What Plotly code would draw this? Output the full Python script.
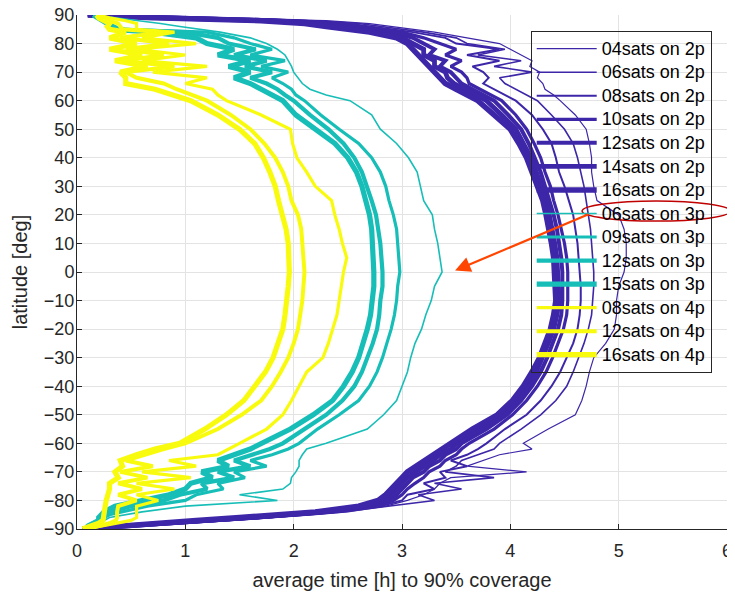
import plotly.graph_objects as go

LAT = [90, 89, 88, 87, 86, 85, 84, 82, 80, 78, 76, 74, 72, 70, 68, 66, 64, 62, 60,
       55, 50, 45, 40, 35, 30, 25, 20, 15, 10, 5, 0, -5, -10, -15, -20, -25, -30, -35, -40, -45, -50, -55,
       -60, -62, -64, -66, -68, -70, -72, -74, -76, -78, -80, -82, -84, -85, -86, -87, -88, -89, -90]

# ---- 2 planes ----
p2_04 = [0.1, 1.3, 2.3, 2.7, 2.9, 3.1, 3.3, 3.6, 3.9, 4.0, 4.1, 4.2, 4.18, 4.27, 4.25, 4.3, 4.32, 4.4, 4.46,
         4.6, 4.7, 4.73, 4.75, 4.75, 4.77, 4.8, 5.0, 5.05, 5.07, 5.07, 5.05, 5.0, 4.98, 4.98, 4.96, 4.88, 4.77, 4.73, 4.7, 4.66, 4.6, 4.35,
         4.12, 4.2, 3.9, 3.75, 3.6, 4.15, 3.45, 3.35, 3.3, 3.2, 3.05, 2.85, 2.5, 2.2, 1.85, 1.45, 1.0, 0.55, 0.05]
p2_06 = [0.1, 1.2, 2.2, 2.6, 2.8, 3.0, 3.2, 3.5, 3.6, 3.95, 3.7, 4.1, 3.85, 4.2, 3.9, 3.95, 4.05, 4.15, 4.25,
         4.38, 4.5, 4.58, 4.62, 4.65, 4.68, 4.7, 4.72, 4.74, 4.75, 4.76, 4.77, 4.77, 4.76, 4.75, 4.72, 4.68, 4.63, 4.58, 4.52, 4.42, 4.28, 4.1,
         3.9, 3.85, 3.7, 3.55, 3.5, 3.4, 3.85, 3.3, 3.55, 3.15, 3.3, 2.85, 2.45, 2.15, 1.8, 1.4, 1.0, 0.55, 0.05]
p2_08 = [0.1, 1.1, 2.1, 2.5, 2.7, 2.9, 3.1, 3.4, 3.5, 3.9, 3.6, 3.9, 3.65, 3.75, 3.8, 3.75, 3.85, 3.95, 4.05,
         4.2, 4.3, 4.38, 4.42, 4.45, 4.5, 4.54, 4.58, 4.6, 4.62, 4.63, 4.64, 4.65, 4.65, 4.64, 4.62, 4.58, 4.52, 4.46, 4.38, 4.28, 4.15, 3.95,
         3.78, 3.7, 3.6, 3.45, 3.6, 3.35, 3.4, 3.2, 3.3, 3.05, 3.0, 2.8, 2.4, 2.1, 1.75, 1.35, 0.95, 0.5, 0.05]
p2_10 = [0.1, 1.0, 2.0, 2.4, 2.6, 2.8, 3.0, 3.2, 3.35, 3.5, 3.4, 3.55, 3.45, 3.55, 3.6, 3.62, 3.72, 3.82, 3.92,
         4.05, 4.15, 4.22, 4.28, 4.32, 4.37, 4.4, 4.44, 4.47, 4.5, 4.52, 4.53, 4.53, 4.53, 4.52, 4.49, 4.44, 4.39, 4.33, 4.25, 4.15, 4.02, 3.85,
         3.62, 3.55, 3.5, 3.4, 3.35, 3.25, 3.2, 3.12, 3.05, 3.0, 2.92, 2.75, 2.35, 2.05, 1.7, 1.3, 0.9, 0.5, 0.05]
p2_12 = [0.1, 0.9, 1.9, 2.3, 2.5, 2.7, 2.9, 3.1, 3.2, 3.3, 3.25, 3.4, 3.35, 3.45, 3.5, 3.55, 3.65, 3.75, 3.85,
         3.98, 4.1, 4.17, 4.23, 4.28, 4.32, 4.36, 4.4, 4.43, 4.45, 4.47, 4.48, 4.48, 4.48, 4.47, 4.44, 4.39, 4.34, 4.28, 4.2, 4.1, 3.97, 3.78,
         3.55, 3.5, 3.4, 3.35, 3.25, 3.2, 3.1, 3.05, 3.0, 2.95, 2.87, 2.7, 2.3, 2.0, 1.65, 1.25, 0.85, 0.45, 0.05]
p2_14 = [0.1, 0.8, 1.8, 2.2, 2.4, 2.6, 2.8, 3.0, 3.1, 3.2, 3.2, 3.3, 3.3, 3.4, 3.42, 3.48, 3.58, 3.68, 3.78,
         3.92, 4.05, 4.12, 4.19, 4.24, 4.29, 4.33, 4.36, 4.39, 4.41, 4.43, 4.44, 4.45, 4.45, 4.43, 4.4, 4.35, 4.3, 4.24, 4.16, 4.07, 3.93, 3.72,
         3.5, 3.45, 3.35, 3.28, 3.2, 3.12, 3.05, 3.0, 2.95, 2.9, 2.82, 2.65, 2.25, 1.95, 1.6, 1.2, 0.8, 0.4, 0.05]
p2_16 = [0.1, 0.7, 1.7, 2.1, 2.3, 2.5, 2.7, 2.95, 3.05, 3.1, 3.15, 3.2, 3.25, 3.3, 3.35, 3.4, 3.5, 3.6, 3.7,
         3.85, 4.0, 4.08, 4.15, 4.2, 4.25, 4.3, 4.33, 4.36, 4.38, 4.4, 4.41, 4.42, 4.42, 4.4, 4.37, 4.32, 4.27, 4.2, 4.12, 4.02, 3.88, 3.65,
         3.45, 3.38, 3.3, 3.2, 3.12, 3.05, 3.0, 2.95, 2.9, 2.85, 2.78, 2.6, 2.2, 1.9, 1.5, 1.1, 0.7, 0.35, 0.05]

# ---- 3 planes ----
p3_06 = [0.15, 0.37, 0.55, 0.77, 0.95, 1.15, 1.32, 1.6, 1.75, 1.85, 1.92, 1.95, 1.98, 2.0, 2.04, 2.08, 2.15, 2.3, 2.52,
         2.72, 2.8, 2.95, 3.06, 3.14, 3.17, 3.2, 3.28, 3.3, 3.33, 3.35, 3.37, 3.3, 3.27, 3.22, 3.18, 3.12, 3.08, 3.05, 3.0, 2.95, 2.83, 2.68,
         2.3, 2.12, 2.08, 2.05, 2.05, 2.02, 1.98, 1.97, 1.9, 1.5, 1.85, 1.0, 0.6, 0.45, 0.3, 0.25, 0.2, 0.15, 0.1]
p3_09 = [0.15, 0.25, 0.3, 0.3, 0.35, 0.4, 1.2, 1.45, 1.6, 1.8, 1.6, 1.92, 1.7, 1.95, 1.8, 1.9, 1.98, 2.02, 2.1,
         2.25, 2.42, 2.6, 2.72, 2.8, 2.85, 2.88, 2.92, 2.95, 2.96, 2.97, 2.98, 2.96, 2.95, 2.93, 2.9, 2.86, 2.82, 2.77, 2.7, 2.6, 2.42, 2.22,
         2.05, 1.95, 1.8, 1.6, 1.75, 1.45, 1.55, 1.3, 1.35, 1.1, 1.0, 0.65, 0.4, 0.3, 0.25, 0.22, 0.18, 0.12, 0.08]
p3_12 = [0.15, 0.22, 0.28, 0.3, 0.3, 0.35, 1.0, 1.3, 1.4, 1.65, 1.45, 1.75, 1.55, 1.8, 1.6, 1.75, 1.85, 1.92, 2.0,
         2.15, 2.32, 2.46, 2.56, 2.63, 2.68, 2.72, 2.76, 2.78, 2.8, 2.81, 2.82, 2.82, 2.8, 2.79, 2.77, 2.73, 2.68, 2.63, 2.56, 2.45, 2.3, 2.1,
         1.9, 1.78, 1.62, 1.45, 1.6, 1.3, 1.45, 1.15, 1.2, 0.95, 0.8, 0.5, 0.3, 0.25, 0.22, 0.2, 0.15, 0.1, 0.08]
p3_15 = [0.15, 0.2, 0.25, 0.28, 0.3, 0.32, 0.7, 1.1, 1.2, 1.45, 1.3, 1.6, 1.4, 1.6, 1.45, 1.6, 1.7, 1.8, 1.9,
         2.02, 2.2, 2.38, 2.5, 2.58, 2.63, 2.67, 2.7, 2.72, 2.73, 2.74, 2.74, 2.74, 2.73, 2.71, 2.68, 2.64, 2.6, 2.54, 2.46, 2.36, 2.18, 1.97,
         1.72, 1.6, 1.45, 1.3, 1.4, 1.15, 1.25, 1.05, 1.0, 0.85, 0.6, 0.35, 0.25, 0.22, 0.2, 0.2, 0.15, 0.1, 0.08]

# ---- 4 planes ----
p4_08 = [0.2, 0.3, 0.45, 0.55, 0.55, 0.55, 0.9, 0.6, 1.1, 0.55, 1.0, 0.6, 1.2, 0.7, 1.2, 1.0, 1.25, 1.3, 1.38,
         1.7, 1.97, 1.99, 2.03, 2.12, 2.2, 2.35, 2.38, 2.42, 2.45, 2.49, 2.46, 2.44, 2.42, 2.4, 2.36, 2.32, 2.27, 2.12, 2.05, 1.98, 1.9, 1.75,
         1.5, 1.4, 1.3, 0.85, 1.1, 0.6, 1.05, 0.55, 0.9, 0.55, 0.75, 0.55, 0.55, 0.55, 0.55, 0.5, 0.35, 0.2, 0.08]
p4_12 = [0.18, 0.22, 0.3, 0.38, 0.4, 0.42, 0.8, 0.4, 0.85, 0.45, 0.8, 0.42, 0.9, 0.45, 0.55, 0.8, 0.92, 1.05, 1.2,
         1.42, 1.6, 1.73, 1.83, 1.9, 1.95, 1.98, 2.04, 2.07, 2.08, 2.09, 2.1, 2.09, 2.08, 2.06, 2.04, 2.0, 1.95, 1.88, 1.8, 1.7, 1.52, 1.3,
         1.0, 0.8, 0.62, 0.45, 0.7, 0.4, 0.65, 0.38, 0.6, 0.38, 0.55, 0.38, 0.37, 0.37, 0.37, 0.36, 0.3, 0.2, 0.08]
p4_16 = [0.18, 0.2, 0.25, 0.3, 0.28, 0.3, 0.45, 0.3, 0.55, 0.3, 0.6, 0.35, 0.65, 0.4, 0.45, 0.45, 0.72, 0.9, 1.05,
         1.3, 1.5, 1.64, 1.72, 1.78, 1.83, 1.86, 1.9, 1.93, 1.95, 1.96, 1.96, 1.95, 1.94, 1.92, 1.9, 1.86, 1.81, 1.74, 1.64, 1.54, 1.38, 1.18,
         0.95, 0.72, 0.55, 0.4, 0.42, 0.35, 0.38, 0.3, 0.3, 0.28, 0.27, 0.26, 0.25, 0.25, 0.25, 0.24, 0.2, 0.12, 0.05]

NAMES = ["04sats on 2p", "06sats on 2p", "08sats on 2p", "10sats on 2p", "12sats on 2p", "14sats on 2p", "16sats on 2p",
         "06sats on 3p", "09sats on 3p", "12sats on 3p", "15sats on 3p",
         "08sats on 4p", "12sats on 4p", "16sats on 4p"]
VALUES = [p2_04, p2_06, p2_08, p2_10, p2_12, p2_14, p2_16, p3_06, p3_09, p3_12, p3_15, p4_08, p4_12, p4_16]

PURPLE, CYAN, YELLOW = "#3E26A8", "#17BEB8", "#F9FB0E"
COLORS = [PURPLE] * 7 + [CYAN] * 4 + [YELLOW] * 3
WIDTHS = [1.2, 1.6, 2.0, 3.2, 4.0, 4.8, 5.5, 1.6, 3.2, 4.2, 5.2, 3.2, 4.0, 5.2]

fig = go.Figure()
for name, vals, col, w in zip(NAMES, VALUES, COLORS, WIDTHS):
    fig.add_trace(go.Scatter(x=vals, y=LAT, mode="lines",
                             name='<span style="font-size:18px">' + name + '</span>',
                             line=dict(color=col, width=w)))

FONT = "Liberation Sans, Arial, Helvetica, sans-serif"
TXT = "#262626"

# the page body adds an 8px offset, so the figure is 8px smaller than the window
fig.update_layout(
    width=727, height=584,
    margin=dict(l=69, r=8, t=7, b=63),
    paper_bgcolor="white", plot_bgcolor="white",
    font=dict(family=FONT, color=TXT, size=18),
    legend=dict(x=0.698, y=0.969, xanchor="left", yanchor="top",
                bgcolor="rgba(0,0,0,0)", bordercolor="#262626", borderwidth=1,
                font=dict(size=15.8, color="black"), itemwidth=60, tracegroupgap=0),
    xaxis=dict(range=[0, 6], dtick=1, showgrid=True, gridcolor="#E3E3E3", automargin=False,
               zeroline=False, showline=True, linecolor=TXT, linewidth=1,
               ticks="inside", ticklen=5, tickcolor=TXT, tickfont=dict(size=18, color=TXT),
               ticklabelstandoff=5, ticklabeloverflow="allow",
               title=dict(text="average time [h] to 90% coverage", font=dict(size=20, color=TXT), standoff=13)),
    yaxis=dict(range=[-90, 90], dtick=10, showgrid=True, gridcolor="#E3E3E3", automargin=False,
               zeroline=False, showline=True, linecolor=TXT, linewidth=1,
               ticks="inside", ticklen=5, tickcolor=TXT, tickfont=dict(size=18, color=TXT),
               ticklabelstandoff=-2, ticklabeloverflow="allow",
               title=dict(text="latitude [deg]", font=dict(size=20, color=TXT), standoff=10)),
)

fig.add_shape(type="circle", xref="paper", yref="paper",
              x0=0.777, x1=1.005, y0=0.599, y1=0.638,
              line=dict(color="#C00000", width=1.5))
fig.add_annotation(x=3.49, y=0.5, xref="x", yref="y", ax=135, ay=-57, text="",
                   showarrow=True, arrowhead=2, arrowsize=1.4, arrowwidth=2.2,
                   arrowcolor="#FF4500")

fig.write_html("out.html")
